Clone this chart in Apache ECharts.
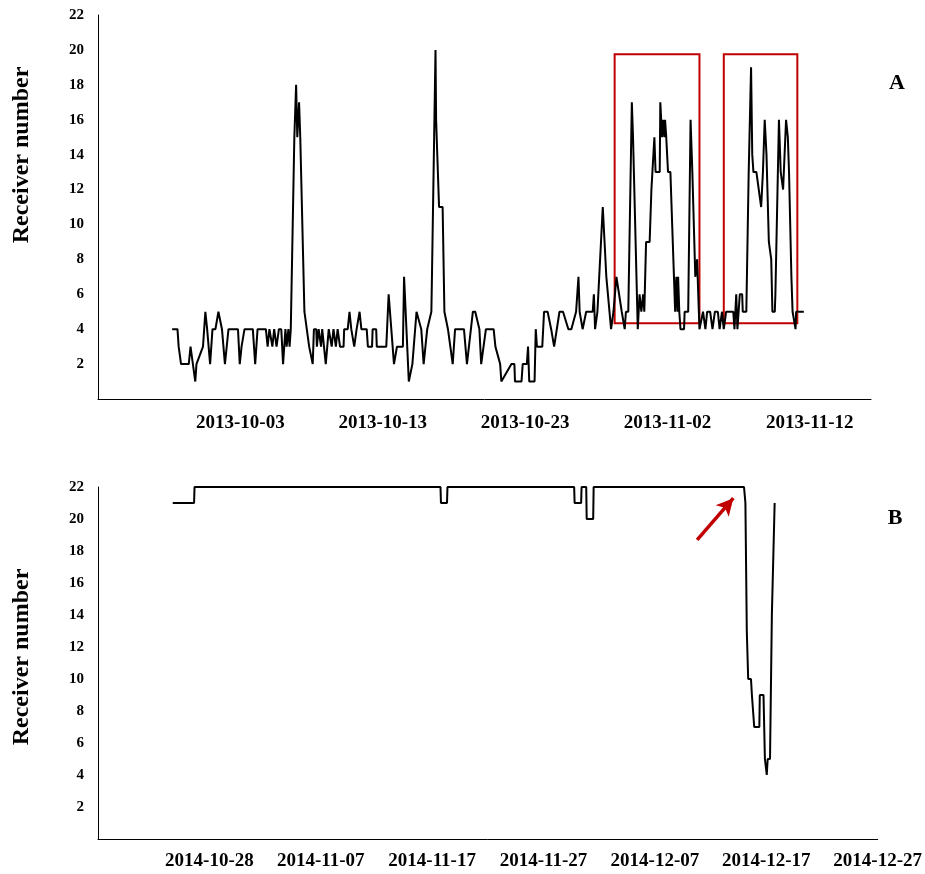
<!DOCTYPE html>
<html>
<head>
<meta charset="utf-8">
<script src="https://cdn.jsdelivr.net/npm/echarts@6/dist/echarts.min.js"></script>
<style>
  html, body { margin: 0; padding: 0; background: #ffffff; }
  #chart { width: 925px; height: 874px; }
</style>
</head>
<body>
<div id="chart"></div>
<script>
// ---- Panel A: receivers detecting the tag, autumn 2013 ----
// time is given in hours after 2013-09-23 00:00
const hoursA = [
  125,134,136,140,153,156,164,166,177,179,181,184,189,193,198,203,209,214,220,236,
  239,242,245,247,261,265,269,283,286,289,292,294,296,297,300,301,304,305,309,312,
  316,318,321,323,325,327,331,334,336,339,341,348,351,356,362,364,368,369,372,374,
  376,378,380,384,389,392,394,397,400,401,404,407,408,414,415,421,424,427,432,436,
  441,444,453,455,462,463,469,470,486,490,492,499,504,514,516,519,524,530,537,545,
  549,555,562,563,569,570,573,575,581,584,590,594,598,602,617,622,632,636,643,646,
  654,667,670,678,680,697,702,703,714,716,723,725,727,736,738,740,749,752,758,764,
  769,778,784,793,798,806,810,812,817,820,823,834,836,838,842,845,851,857,860,865,
  869,874,877,883,888,890,894,900,902,910,913,916,919,921,924,930,932,933,936,938,
  940,947,948,951,953,955,956,958,961,965,968,971,973,975,977,978,980,982,988,989,
  995,999,1002,1005,1007,1010,1014,1020,1024,1027,1032,1036,1040,1045,1048,1052,1055,1059,1071,1073,
  1076,1078,1082,1086,1087,1093,1097,1101,1103,1105,1110,1114,1118,1121,1124,1127,1131,1135,1137,1141,
  1142,1148,1151,1154,1155,1160,1162,1163,1165,1169,1171,1174,1176,1177,1190
];
const countA = [
  4,4,3,2,2,3,1,2,3,4,5,4,2,4,4,5,4,2,4,4,
  2,3,3,4,4,2,4,4,3,4,4,3,3,4,4,3,3,4,4,2,
  4,3,4,3,4,4,15,18,15,17,15,5,5,3,2,4,4,3,4,4,
  3,4,4,2,4,4,3,4,4,3,4,4,3,3,4,4,5,4,3,4,
  5,4,4,3,3,4,4,3,3,6,6,2,3,3,7,7,1,2,5,4,
  2,4,5,7,20,16,16,11,11,5,4,3,2,4,4,2,5,5,4,2,
  4,4,3,2,1,2,2,1,1,2,2,3,1,1,4,3,3,5,5,4,
  3,5,5,4,4,5,7,5,4,4,5,5,6,4,5,5,11,7,7,4,
  5,7,7,5,4,5,5,17,15,4,6,5,6,5,9,9,11,12,12,15,
  13,13,17,15,16,15,16,15,13,13,10,7,5,7,5,7,5,4,4,5,
  5,16,13,13,7,8,4,5,4,5,5,4,5,5,4,5,4,5,5,4,
  6,4,6,6,5,5,13,19,14,13,13,12,11,13,16,14,9,8,5,5,
  6,16,13,13,12,16,16,15,13,7,5,5,4,5,5
];
const ticksA = ['2013-10-03', '2013-10-13', '2013-10-23', '2013-11-02', '2013-11-12'];
// highlighted periods in panel A, in hours, and their count range
const windowsA = [[871, 1014], [1055, 1179]];
const windowCountA = [4.34, 19.75];

// ---- Panel B: receivers detecting the tag, autumn 2014 ----
// time is given in hours after 2014-10-18 00:00
const hoursB = [
  161, 207, 208, 738, 739, 752, 753, 1026, 1027, 1041, 1042, 1052, 1053, 1067, 1068,
  1392, 1395, 1398, 1401, 1407, 1409, 1413, 1414, 1425, 1426, 1434, 1437, 1440, 1441,
  1443, 1448, 1452, 1458
];
const countB = [
  21, 21, 22, 22, 21, 21, 22, 22, 21, 21, 22, 22, 20, 20, 22,
  22, 21, 13, 10, 10, 9, 9, 7, 7, 9, 9, 5, 5, 4,
  5, 5, 14, 21
];
const ticksB = ['2014-10-28', '2014-11-07', '2014-11-17', '2014-11-27', '2014-12-07', '2014-12-17', '2014-12-27'];
// arrow pointing at the onset of the drop: [hour, count] tail and head
const arrowB = [[1291, 18.7], [1369, 21.3]];

const serif = '"Liberation Serif", "Times New Roman", serif';
const red = '#C00000';

const toPoints = (hours, counts) => hours.map((h, i) => [h / 24, counts[i]]);
const tickFormatter = labels => v => {
  const k = Math.round(v / 10);
  return (k >= 1 && Math.abs(v - k * 10) < 1e-6 && labels[k - 1]) ? labels[k - 1] : '';
};

const xAxisBase = (gridIndex, max, labels, margin) => ({
  type: 'value', gridIndex, min: 0, max, interval: 10,
  axisLine: { show: true, lineStyle: { color: '#000', width: 1 } },
  axisTick: { show: false },
  splitLine: { show: false },
  axisLabel: {
    formatter: tickFormatter(labels), showMinLabel: false,
    fontFamily: serif, fontWeight: 'bold', fontSize: 19, color: '#000', margin
  }
});
const yAxisBase = gridIndex => ({
  type: 'value', gridIndex, min: 0, max: 22, interval: 2,
  axisLine: { show: true, lineStyle: { color: '#000', width: 1 } },
  axisTick: { show: false },
  splitLine: { show: false },
  axisLabel: {
    showMinLabel: false, fontFamily: serif, fontWeight: 'bold',
    fontSize: 15, color: '#000', margin: 14
  }
});

const chart = echarts.init(document.getElementById('chart'));
chart.setOption({
  animation: false,
  backgroundColor: '#ffffff',
  grid: [
    { left: 98, top: 15, width: 773, height: 384 },
    { left: 98, top: 487, width: 781, height: 352 }
  ],
  xAxis: [xAxisBase(0, 54.3, ticksA, 15), xAxisBase(1, 70, ticksB, 13)],
  yAxis: [yAxisBase(0), yAxisBase(1)],
  series: [
    {
      type: 'line', xAxisIndex: 0, yAxisIndex: 0,
      data: toPoints(hoursA, countA),
      showSymbol: false, silent: true,
      lineStyle: { color: '#000', width: 2 }
    },
    {
      // outlines of the highlighted periods, drawn over the trace
      type: 'line', xAxisIndex: 0, yAxisIndex: 0, data: [], z: 5, silent: true,
      markArea: {
        silent: true,
        itemStyle: { color: 'rgba(0,0,0,0)', borderColor: red, borderWidth: 2 },
        data: windowsA.map(w => [
          { xAxis: w[0] / 24, yAxis: windowCountA[0] },
          { xAxis: w[1] / 24, yAxis: windowCountA[1] }
        ])
      }
    },
    {
      type: 'line', xAxisIndex: 1, yAxisIndex: 1,
      data: toPoints(hoursB, countB),
      showSymbol: false, silent: true,
      lineStyle: { color: '#000', width: 2 },
      markLine: {
        silent: true, animation: false,
        symbol: ['none', 'arrow'], symbolSize: [13, 17],
        label: { show: false },
        lineStyle: { color: red, width: 3.5, type: 'solid' },
        data: [[
          { coord: [arrowB[0][0] / 24, arrowB[0][1]] },
          { coord: [arrowB[1][0] / 24, arrowB[1][1]] }
        ]]
      }
    }
  ],
  graphic: [
    { type: 'text', x: 22, y: 155, rotation: Math.PI / 2,
      style: { text: 'Receiver number', font: 'bold 24px ' + serif, fill: '#000', align: 'center', verticalAlign: 'middle' } },
    { type: 'text', x: 22, y: 657, rotation: Math.PI / 2,
      style: { text: 'Receiver number', font: 'bold 24px ' + serif, fill: '#000', align: 'center', verticalAlign: 'middle' } },
    { type: 'text', x: 897, y: 83,
      style: { text: 'A', font: 'bold 22px ' + serif, fill: '#000', align: 'center', verticalAlign: 'middle' } },
    { type: 'text', x: 895, y: 518,
      style: { text: 'B', font: 'bold 22px ' + serif, fill: '#000', align: 'center', verticalAlign: 'middle' } }
  ]
});
</script>
</body>
</html>
